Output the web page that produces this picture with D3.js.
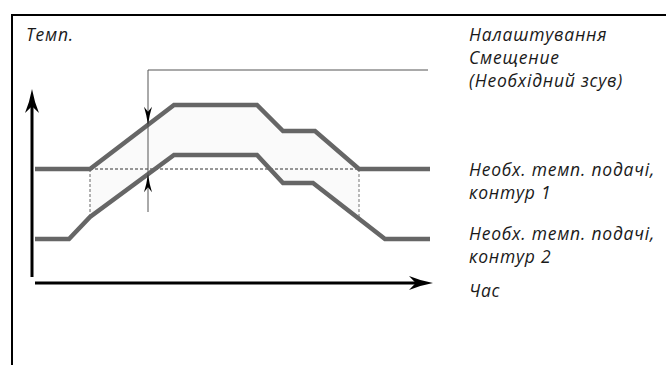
<!DOCTYPE html>
<html>
<head>
<meta charset="utf-8">
<script src="https://cdn.jsdelivr.net/npm/d3@7"></script>
<style>
  html, body { margin: 0; padding: 0; background: #fff; }
  svg { display: block; }
  text { font-family: "Open Sans", "Noto Sans", sans-serif; font-style: italic; fill: #1a1a1a; }
</style>
</head>
<body>
<svg id="chart" width="666" height="365"></svg>
<script>
// Time points (arbitrary units) and required flow temperatures (arbitrary units)
const circuit1Time = [2, 57, 141, 224, 250, 282, 326, 397];
const circuit1Temp = [5.7, 5.7, 8.9, 8.9, 7.6, 7.6, 5.7, 5.7];
const circuit2Time = [2, 36, 57, 141, 224, 250, 280, 352, 397];
const circuit2Temp = [2.2, 2.2, 3.3, 6.4, 6.4, 5.0, 5.0, 2.2, 2.2];

// Offset window (start / end of the period where circuit 1 is raised)
const offsetWindow = [57, 326];
// Time at which the offset is dimensioned
const offsetMarkTime = 115;

const labels = {
  yAxis: "Темп.",
  offset: ["Налаштування", "Смещение", "(Необхідний зсув)"],
  circuit1: ["Необх. темп. подачі,", "контур 1"],
  circuit2: ["Необх. темп. подачі,", "контур 2"],
  xAxis: "Час"
};

const svg = d3.select("#chart");

const x = d3.scaleLinear().domain([0, 400]).range([33, 433]);
const y = d3.scaleLinear().domain([0, 10]).range([283, 83]);

const c1 = circuit1Time.map((t, i) => ({ t, v: circuit1Temp[i] }));
const c2 = circuit2Time.map((t, i) => ({ t, v: circuit2Temp[i] }));

// value of a piecewise-linear series at time t
function valueAt(series, t) {
  for (let i = 0; i < series.length - 1; i++) {
    const a = series[i], b = series[i + 1];
    if (t >= a.t && t <= b.t) return a.v + (b.v - a.v) * (t - a.t) / (b.t - a.t);
  }
  return series[series.length - 1].v;
}

// frame
svg.append("path")
  .attr("d", "M12,365 V15 H666")
  .attr("fill", "none").attr("stroke", "#000").attr("stroke-width", 2);

// shaded band between the two circuits inside the offset window
const [w0, w1] = offsetWindow;
const upperPts = [{ t: w0, v: valueAt(c1, w0) }, ...c1.filter(d => d.t > w0 && d.t < w1), { t: w1, v: valueAt(c1, w1) }];
const lowerPts = [{ t: w0, v: valueAt(c2, w0) }, ...c2.filter(d => d.t > w0 && d.t < w1), { t: w1, v: valueAt(c2, w1) }];
const band = upperPts.concat(lowerPts.slice().reverse());
svg.append("path")
  .attr("d", d3.line().x(d => x(d.t)).y(d => y(d.v))(band) + "Z")
  .attr("fill", "#fafafa");

// dashed reference: the base level of circuit 1 across the window
const base = c1[0].v;
const dash = svg.append("g").attr("fill", "none").attr("stroke-width", 1).attr("stroke-dasharray", "3,2");
dash.append("line")
  .attr("x1", x(w0)).attr("x2", x(w1)).attr("y1", y(base)).attr("y2", y(base))
  .attr("stroke", "#333");
dash.append("line")
  .attr("x1", x(w0)).attr("x2", x(w0)).attr("y1", y(base)).attr("y2", y(valueAt(c2, w0)))
  .attr("stroke", "#666");
dash.append("line")
  .attr("x1", x(w1)).attr("x2", x(w1)).attr("y1", y(base)).attr("y2", y(valueAt(c2, w1)))
  .attr("stroke", "#777");

// circuit lines
const line = d3.line().x(d => x(d.t)).y(d => y(d.v));
[c1, c2].forEach(s => {
  svg.append("path")
    .attr("d", line(s))
    .attr("fill", "none")
    .attr("stroke", "#666")
    .attr("stroke-width", 4.5)
    .attr("stroke-linejoin", "miter");
});

// offset dimension line with leader to the label
const mx = x(offsetMarkTime);
const yUp = y(valueAt(c1, offsetMarkTime));
const yLo = y(valueAt(c2, offsetMarkTime));
svg.append("path")
  .attr("d", `M${mx},212 V70 H428`)
  .attr("fill", "none").attr("stroke", "#555").attr("stroke-width", 1);

// barbed arrowheads
function arrowHead(tipX, tipY, dir, len, half) {
  // dir: unit vector pointing toward the tip
  const [dx, dy] = dir;
  const px = -dy, py = dx;
  const bx = tipX - dx * len, by = tipY - dy * len;
  const nx = tipX - dx * len * 0.72, ny = tipY - dy * len * 0.72;
  return `M${tipX},${tipY} Q${tipX - dx * len * 0.55 + px * half * 0.35},${tipY - dy * len * 0.55 + py * half * 0.35} ${bx + px * half},${by + py * half}` +
         ` L${nx},${ny} L${bx - px * half},${by - py * half}` +
         ` Q${tipX - dx * len * 0.55 - px * half * 0.35},${tipY - dy * len * 0.55 - py * half * 0.35} ${tipX},${tipY} Z`;
}
svg.append("path").attr("d", arrowHead(mx, yUp, [0, 1], 18, 4)).attr("fill", "#000");
svg.append("path").attr("d", arrowHead(mx, yLo, [0, -1], 18, 4)).attr("fill", "#000");

// axes
const axisY = svg.append("g");
axisY.append("line")
  .attr("x1", x(-1)).attr("x2", x(-1)).attr("y1", 277).attr("y2", 105)
  .attr("stroke", "#000").attr("stroke-width", 3);
axisY.append("path").attr("d", arrowHead(x(-1), 89, [0, -1], 24, 7)).attr("fill", "#000");

const axisX = svg.append("g");
axisX.append("line")
  .attr("x1", x(2)).attr("x2", x(384)).attr("y1", 283).attr("y2", 283)
  .attr("stroke", "#000").attr("stroke-width", 3);
axisX.append("path").attr("d", arrowHead(x(400), 283, [1, 0], 24, 7)).attr("fill", "#000");

// labels: 17.5px type, with tracking so the longest caption spans 469 → 655
const fs = 17.5;
const probe = svg.append("text").attr("font-size", fs).text(labels.circuit1[0]);
const ls = Math.max(0, (186 - probe.node().getComputedTextLength()) / labels.circuit1[0].length);
probe.remove();

svg.append("text").attr("x", 26).attr("y", 41).attr("font-size", fs)
  .attr("letter-spacing", ls).text(labels.yAxis);

function block(lines, x0, y0, lh) {
  const t = svg.append("text").attr("x", x0).attr("y", y0)
    .attr("font-size", fs).attr("letter-spacing", ls);
  lines.forEach((s, i) => t.append("tspan").attr("x", x0).attr("dy", i ? lh : 0).text(s));
}
block(labels.offset, 469, 41, 23);
block(labels.circuit1, 469, 176, 22.5);
block(labels.circuit2, 469, 240, 22.5);
block([labels.xAxis], 469, 297, 22.5);
</script>
</body>
</html>
